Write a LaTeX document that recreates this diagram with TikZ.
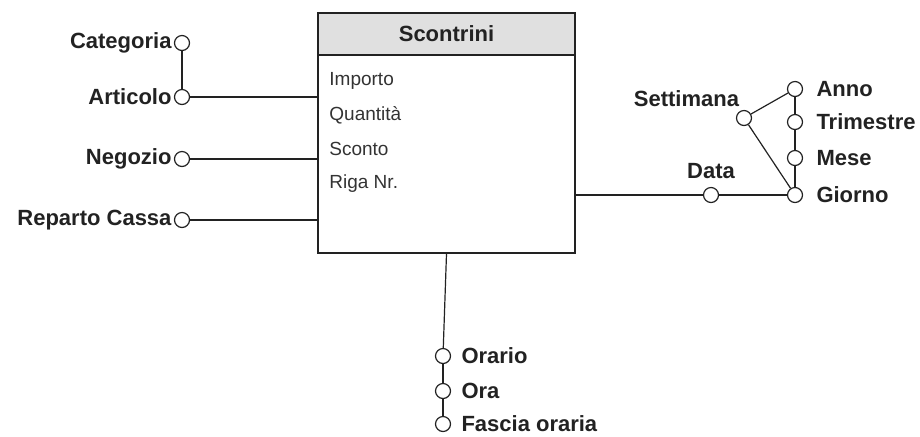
\documentclass[tikz,border=0pt]{standalone}
\usepackage{fontspec}
\setmainfont{Liberation Sans}
\usetikzlibrary{positioning}

\definecolor{headgray}{HTML}{E0E0E0}
\definecolor{inkgray}{HTML}{222222}
\definecolor{fieldgray}{HTML}{333333}

\tikzset{
  level/.style={circle,draw=inkgray,fill=white,line width=0.6pt,minimum size=7.5pt,inner sep=0pt},
  lbl/.style={font=\fontsize{11}{13}\selectfont\bfseries,text=inkgray,inner sep=1pt},
  field/.style={font=\fontsize{9.5}{11}\selectfont,text=fieldgray,inner sep=0pt,anchor=base west},
  link/.style={draw=inkgray,line width=0.6pt}
}

\begin{document}
\begin{tikzpicture}[x=0.5pt,y=-0.5pt]
\useasboundingbox (0,0) rectangle (920,436);

% fatto
\node[draw=inkgray,line width=0.7pt,minimum width=128.5pt,minimum height=120pt,inner sep=0pt] (fact) at (446.5,133) {};
\node[draw=inkgray,line width=0.7pt,fill=headgray,minimum width=128.5pt,minimum height=21pt,anchor=north,
      font=\fontsize{11}{13}\selectfont\bfseries,text=inkgray] (title) at (fact.north) {\raisebox{-2pt}{Scontrini}};

\node[field] (importo) at (329,85) {Importo};
\node[field] (quantita) at (329,120) {Quantità};
\node[field] (sconto) at (329,155) {Sconto};
\node[field] (riga) at (329,188) {Riga Nr.};

% sinistra
\node[level,label={[lbl,label distance=0pt]left:Categoria}] (categoria) at (182,43) {};
\node[level,label={[lbl,label distance=0pt]left:Articolo}] (articolo) at (182,97) {};
\node[level,label={[lbl,label distance=0pt]left:Negozio}] (negozio) at (182,159) {};
\node[level,label={[lbl,label distance=0pt]left:Reparto Cassa}] (reparto) at (182,220) {};

\draw[link] (categoria) -- (articolo);
\draw[link] (articolo) -- (articolo -| fact.west);
\draw[link] (negozio) -- (negozio -| fact.west);
\draw[link] (reparto) -- (reparto -| fact.west);

% destra
\node[level,label={[lbl,label distance=3pt]above:Data}] (data) at (711,195) {};
\node[level,label={[lbl,label distance=5.5pt]right:Giorno}] (giorno) at (795,195) {};
\node[level,label={[lbl,label distance=5.5pt]right:Mese}] (mese) at (795,158) {};
\node[level,label={[lbl,label distance=5.5pt]right:Trimestre}] (trimestre) at (795,122) {};
\node[level,label={[lbl,label distance=5.5pt]right:Anno}] (anno) at (795,89) {};
\node[level,label={[lbl,label distance=2pt,xshift=3pt]above left:Settimana}] (settimana) at (744,118) {};

\draw[link] (fact.east |- data) -- (data) -- (giorno);
\draw[link] (giorno) -- (mese) -- (trimestre) -- (anno);
\draw[link] (settimana) -- (anno);
\draw[link] (settimana) -- (giorno);

% sotto
\node[level,label={[lbl,label distance=4pt]right:Orario}] (orario) at (443,356) {};
\node[level,label={[lbl,label distance=4pt]right:Ora}] (ora) at (443,391) {};
\node[level,label={[lbl,label distance=4pt]right:Fascia oraria}] (fascia) at (443,424) {};

\draw[link] (fact.south) -- (orario);
\draw[link] (orario) -- (ora) -- (fascia);
\end{tikzpicture}
\end{document}
